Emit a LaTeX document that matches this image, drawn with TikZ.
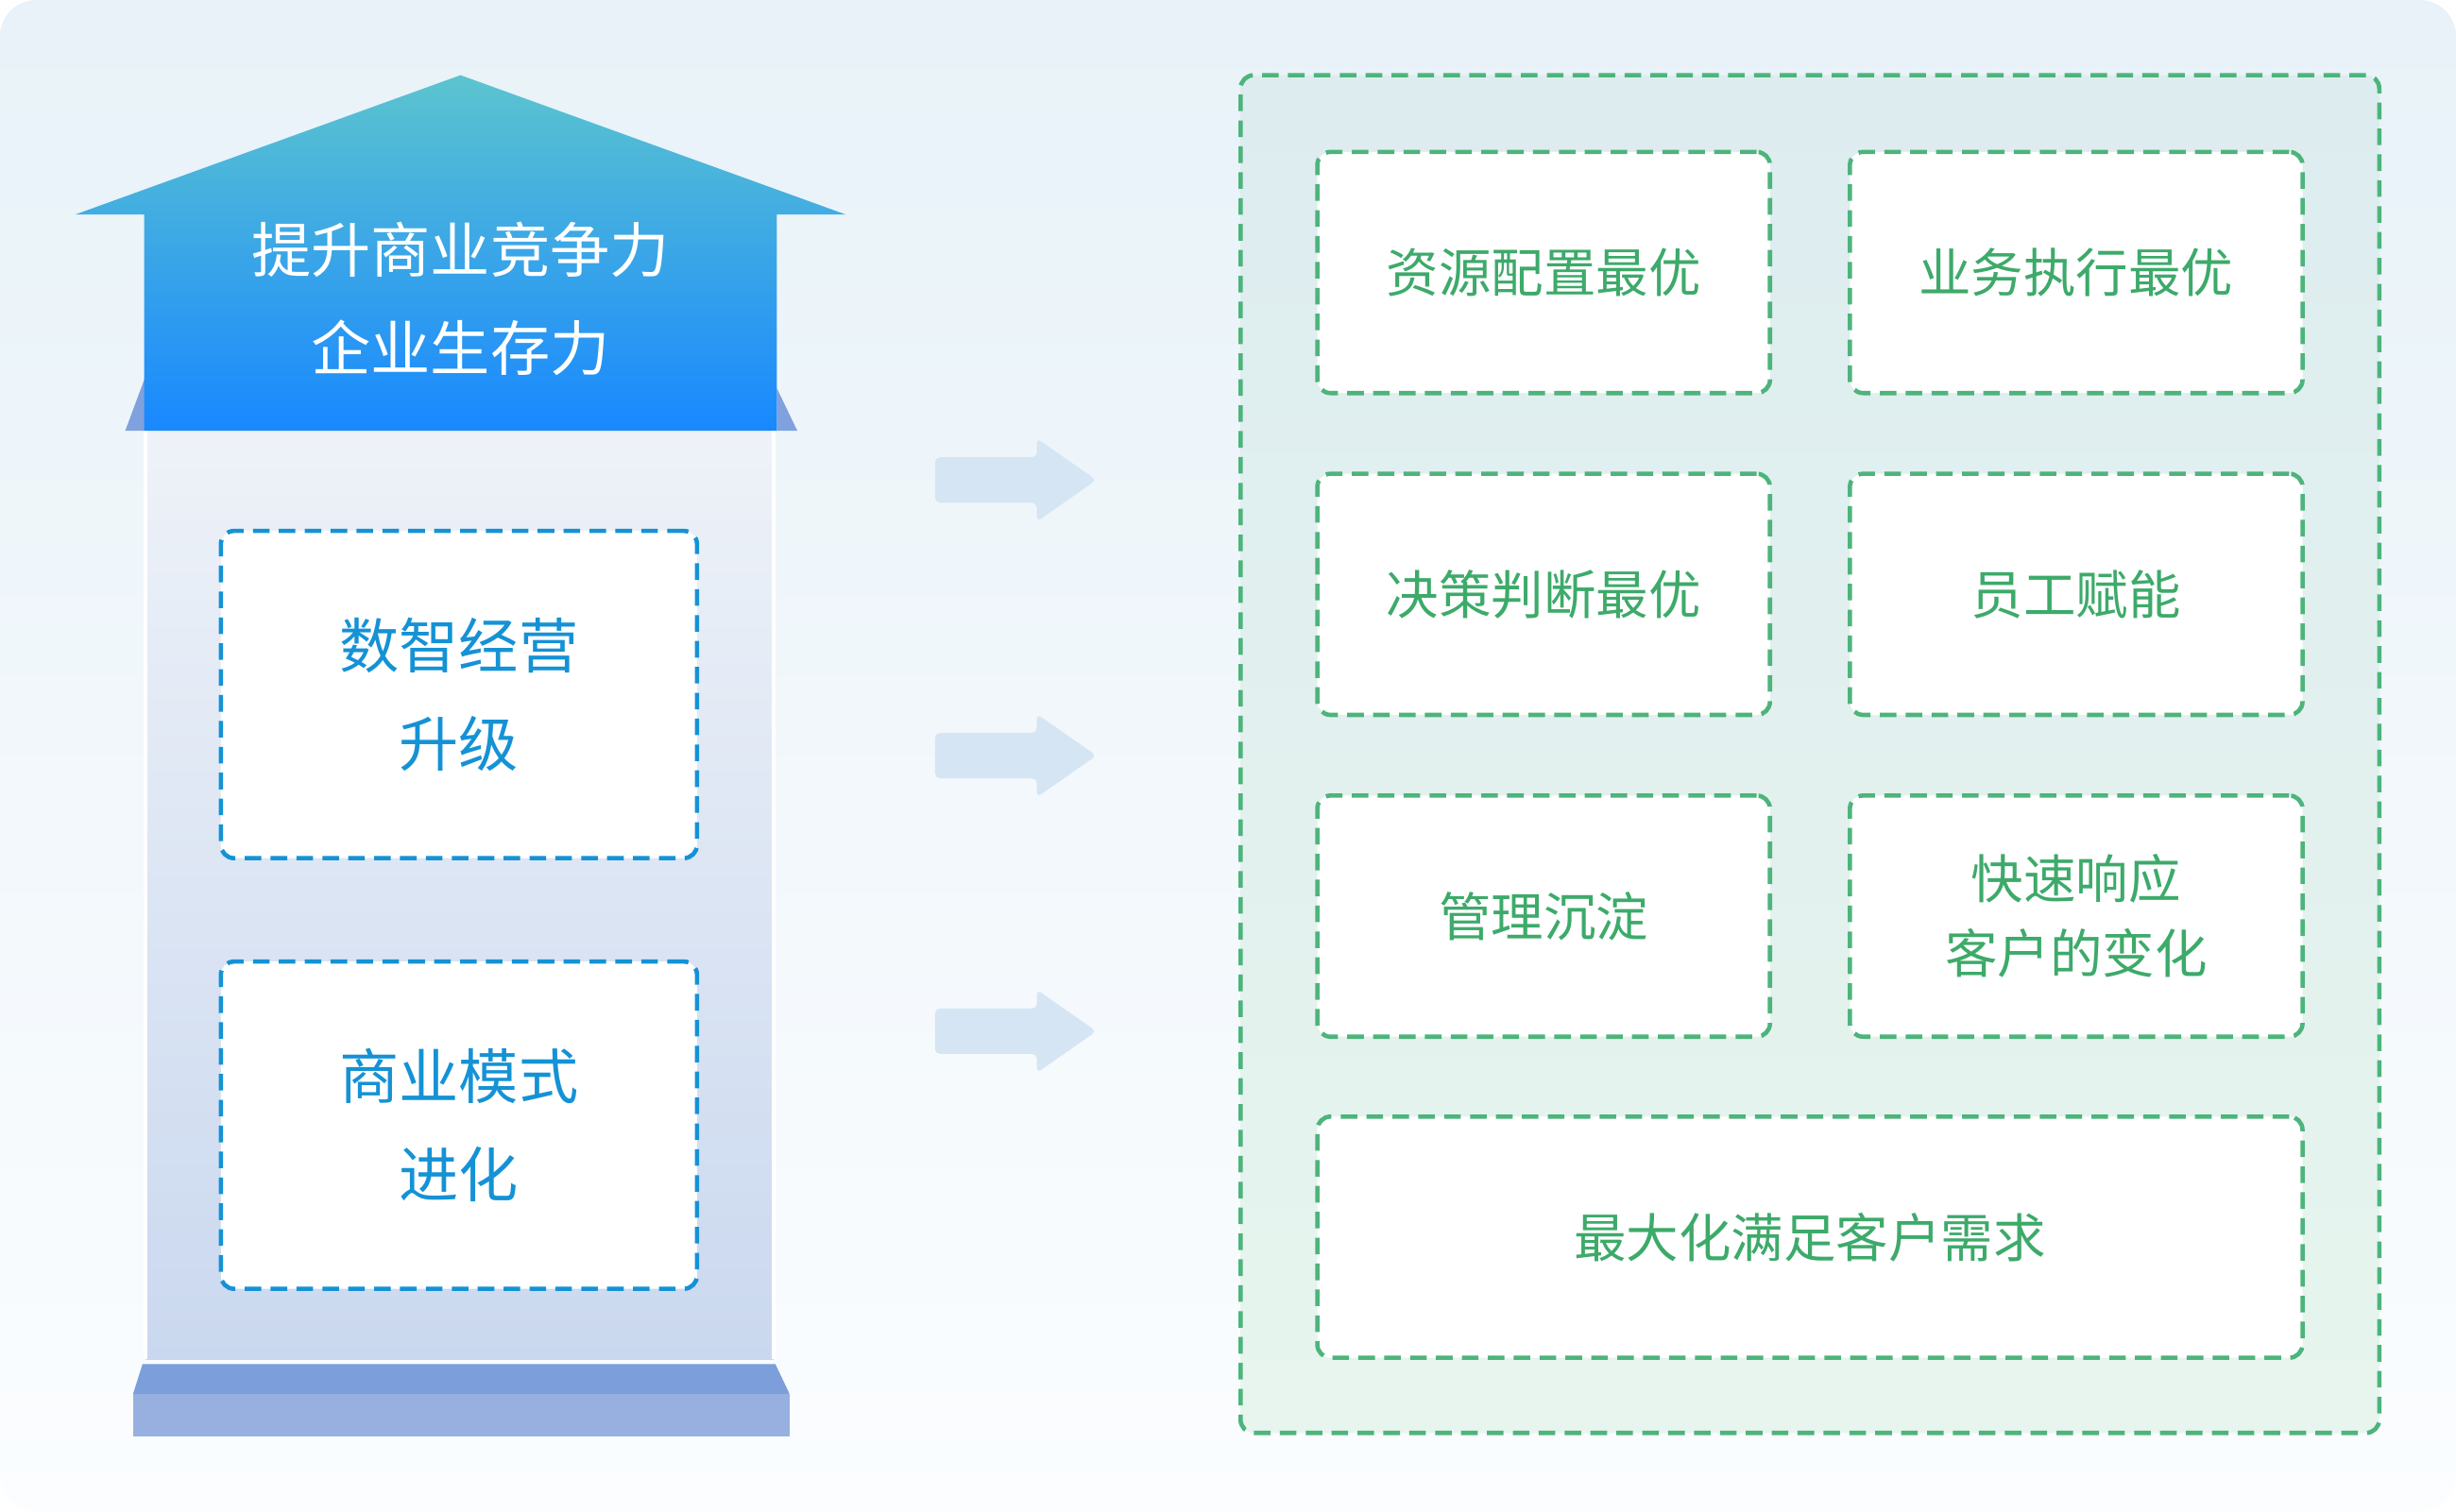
\documentclass[tikz,border=0pt]{standalone}
\usepackage{fontspec}
\usepackage{tikz}
\newfontfamily\cjk{Noto Sans CJK SC}
\usetikzlibrary{positioning}

\newlength\pu
\setlength\pu{0.016582cm}

\definecolor{bgtop}{HTML}{E8F2F8}
\definecolor{bgbot}{HTML}{FBFDFF}
\definecolor{roofteal}{HTML}{5CC4CF}
\definecolor{roofblue}{HTML}{1888FF}
\definecolor{sidecol}{HTML}{7FA2DE}
\definecolor{pillartop}{HTML}{EEF2F8}
\definecolor{pillarbot}{HTML}{CAD8EF}
\definecolor{basetop}{HTML}{7C9FDC}
\definecolor{basebot}{HTML}{97B0E0}
\definecolor{boxblue}{HTML}{1592D5}
\definecolor{arrowcol}{HTML}{D5E5F3}
\definecolor{greenline}{HTML}{4DB47B}
\definecolor{greentext}{HTML}{3DAA6A}
\definecolor{contop}{HTML}{DDECEF}
\definecolor{conbot}{HTML}{E7F5EE}

\tikzset{
  leftbox/.style={draw=boxblue, fill=white, line width=1.3pt, dash pattern=on 5pt off 2.8pt,
    rounded corners=4pt, align=center, text=boxblue, font=\cjk\fontsize{18}{29.5}\selectfont,
    minimum width=304\pu, minimum height=209\pu},
  goalbox/.style={draw=greenline, fill=white, line width=1.3pt, dash pattern=on 5pt off 2.8pt,
    rounded corners=4pt, align=center, text=greentext, font=\cjk\fontsize{15.8}{22.6}\selectfont,
    minimum width=289\pu, minimum height=154\pu},
  container/.style={draw=greenline, line width=1.3pt, dash pattern=on 5pt off 2.8pt,
    rounded corners=4pt, top color=contop, bottom color=conbot,
    minimum width=727\pu, minimum height=867\pu}
}

\begin{document}
\begin{tikzpicture}[x=0.016582cm, y=-0.016582cm]
\useasboundingbox (0,0) rectangle (1568,965);
\fill[white] (0,0) rectangle (1568,965);
\shade[top color=bgtop, bottom color=bgbot, rounded corners=11pt] (0,0) rectangle (1568,965);

\fill[sidecol] (80,275) -- (93,240) -- (93,275) -- cycle;
\fill[sidecol] (509,275) -- (496,248) -- (496,275) -- cycle;
\shade[top color=pillartop, bottom color=pillarbot] (93,275) rectangle (494,868);
\draw[white, line width=1.2pt] (93,275) -- (93,868) (494,275) -- (494,868);
\shade[top color=roofteal, bottom color=roofblue] (48,137) -- (294,48) -- (540,137) -- (496,137)
  -- (496,275) -- (92,275) -- (92,137) -- cycle;
\fill[basetop] (91,871) -- (495,871) -- (504,890) -- (85,890) -- cycle;
\fill[basebot] (85,890) rectangle (504,917);

\node[text=white, align=center, font=\cjk\fontsize{18}{29.5}\selectfont] (goal) at (294,191) {提升商业竞争力\\企业生存力};
\node[leftbox] (upgrade) at (293,443.5) {数智经营\\升级};
\node[leftbox] (evolve) at (293,718.5) {商业模式\\进化};

\foreach \y in {306.5,482.5,658.5}
  \fill[arrowcol, rounded corners=1.5pt] (597,\y-14.5) -- (662,\y-14.5) -- (662,\y-26.5) -- (700,\y)
    -- (662,\y+26.5) -- (662,\y+14.5) -- (597,\y+14.5) -- cycle;

\node[container] (needs) at (1155.5,481.5) {};
\node[goalbox] (resource) at (985.5,174) {资源配置最优};
\node[goalbox] (business) at (1325.5,174) {业务执行最优};
\node[goalbox] (decision) at (985.5,379.5) {决策判断最优};
\node[goalbox] (staff) at (1325.5,379.5) {员工赋能};
\node[goalbox] (manage) at (985.5,585) {管理沉淀};
\node[goalbox] (respond) at (1325.5,585) {快速响应\\客户的变化};
\node[goalbox, minimum width=629\pu] (demand) at (1155.5,790) {最大化满足客户需求};
\end{tikzpicture}
\end{document}
